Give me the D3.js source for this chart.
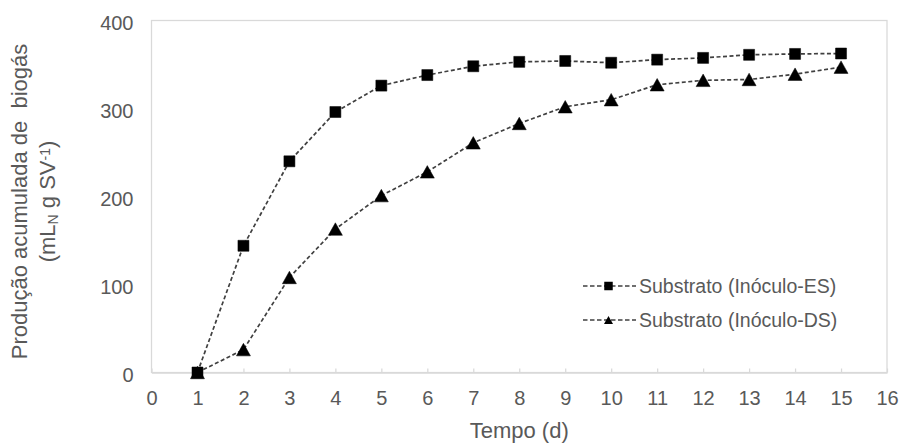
<!DOCTYPE html>
<html>
<head>
<meta charset="utf-8">
<script src="https://cdn.jsdelivr.net/npm/d3@7"></script>
<style>
  body { margin: 0; background: #fff; }
  text { font-family: "Liberation Sans", Arial, sans-serif; fill: #595959; }
</style>
</head>
<body>
<div id="chart"></div>
<script>
// data
const days      = [1, 2, 3, 4, 5, 6, 7, 8, 9, 10, 11, 12, 13, 14, 15];
const valuesES  = [0, 144, 240, 296, 326, 338, 348, 353, 354, 352, 355.5, 357.5, 361, 362, 362.5];
const valuesDS  = [0, 26, 108, 163, 201, 228, 261, 283, 302, 310, 327, 332, 333, 339, 347];
const xTicks    = d3.range(0, 17);
const yTicks    = [0, 100, 200, 300, 400];
const seriesNames = ['Substrato (Inóculo-ES)', 'Substrato (Inóculo-DS)'];

const width  = 901;
const height = 445;
const margin = {top: 20.5, right: 14, bottom: 72.5, left: 151.5};

const svg = d3.select('#chart')
  .append('svg')
  .attr('width', width)
  .attr('height', height);

const xScale = d3.scaleLinear()
  .domain([0, 16])
  .range([margin.left, width - margin.right]);

const yScale = d3.scaleLinear()
  .domain([0, 400])
  .range([height - margin.bottom, margin.top]);

const axisColor = '#d9d9d9';

// plot box (top, right)
svg.append('rect')
  .attr('x', xScale(0))
  .attr('y', yScale(400))
  .attr('width', xScale(16) - xScale(0))
  .attr('height', yScale(0) - yScale(400))
  .attr('fill', 'none')
  .attr('stroke', axisColor)
  .attr('stroke-width', 1.25);

// x-axis with inner ticks
const xAxis = svg.append('g')
  .attr('transform', `translate(0, ${yScale(0)})`)
  .call(d3.axisBottom(xScale).tickValues(xTicks).tickSizeInner(-4).tickSizeOuter(0).tickPadding(18));
xAxis.select('.domain').attr('stroke', axisColor).attr('stroke-width', 1.25);
xAxis.selectAll('.tick line').attr('stroke', axisColor).attr('stroke-width', 1.25);
xAxis.selectAll('.tick text')
  .style('font-size', '20px')
  .style('font-family', '"Liberation Sans", Arial, sans-serif')
  .attr('fill', '#595959');

// y-axis, labels only
const yAxis = svg.append('g')
  .attr('transform', `translate(${xScale(0)}, 2.5)`)
  .call(d3.axisLeft(yScale).tickValues(yTicks).tickSize(0).tickPadding(18));
yAxis.select('.domain').remove();
yAxis.selectAll('.tick text')
  .style('font-size', '20px')
  .style('font-family', '"Liberation Sans", Arial, sans-serif')
  .attr('fill', '#595959');

// axis titles
svg.append('text')
  .attr('x', (xScale(0) + xScale(16)) / 2)
  .attr('y', 438)
  .attr('text-anchor', 'middle')
  .style('font-size', '22px')
  .text('Tempo (d)');

const yTitle = svg.append('g')
  .attr('transform', `translate(0, ${(yScale(0) + yScale(400)) / 2 + 5}) rotate(-90)`);
yTitle.append('text')
  .attr('y', 26.5)
  .attr('text-anchor', 'middle')
  .style('font-size', '22px')
  .style('white-space', 'pre')
  .text('Produção acumulada de  biogás');
const line2 = yTitle.append('text')
  .attr('y', 54.5)
  .attr('text-anchor', 'middle')
  .style('font-size', '22px');
line2.append('tspan').text('(mL');
line2.append('tspan').attr('baseline-shift', '-22%').style('font-size', '14px').text('N');
line2.append('tspan').text(' g SV');
line2.append('tspan').attr('baseline-shift', '38%').style('font-size', '14px').text('-1');
line2.append('tspan').text(')');

// markers
function squarePath(cx, cy, s) {
  const h = s / 2;
  return `M${cx - h},${cy - h}h${s}v${s}h${-s}Z`;
}
function trianglePath(cx, cy, w, hgt) {
  return `M${cx},${cy - hgt / 2}L${cx + w / 2},${cy + hgt / 2}L${cx - w / 2},${cy + hgt / 2}Z`;
}

const line = d3.line()
  .x((d, i) => xScale(days[i]))
  .y(d => yScale(d));

const lineColor = '#404040';

function drawSeries(values, marker) {
  svg.append('path')
    .datum(values)
    .attr('d', line)
    .attr('fill', 'none')
    .attr('stroke', lineColor)
    .attr('stroke-width', 1.7)
    .attr('stroke-dasharray', '4,2.5');

  svg.append('g')
    .selectAll('path')
    .data(values)
    .enter()
    .append('path')
      .attr('d', (d, i) => marker(xScale(days[i]), yScale(d)))
      .attr('fill', '#000')
      .attr('stroke', '#000')
      .attr('stroke-width', 0.5);
}

drawSeries(valuesDS, (x, y) => trianglePath(x, y, 14, 12.5));
drawSeries(valuesES, (x, y) => squarePath(x, y, 11));

// legend
const legend = svg.append('g');
const legendRows = [
  {name: seriesNames[0], marker: (x, y) => squarePath(x, y, 8.5), y: 286},
  {name: seriesNames[1], marker: (x, y) => trianglePath(x, y, 9, 8), y: 320}
];
legendRows.forEach(r => {
  legend.append('line')
    .attr('x1', 583).attr('x2', 636)
    .attr('y1', r.y).attr('y2', r.y)
    .attr('stroke', lineColor)
    .attr('stroke-width', 1.3)
    .attr('stroke-dasharray', '4.5,2.5');
  legend.append('path')
    .attr('d', r.marker(608.5, r.y))
    .attr('fill', '#000');
  legend.append('text')
    .attr('x', 639)
    .attr('y', r.y)
    .attr('dy', '0.35em')
    .style('font-size', '19.5px')
    .text(r.name);
});
</script>
</body>
</html>
